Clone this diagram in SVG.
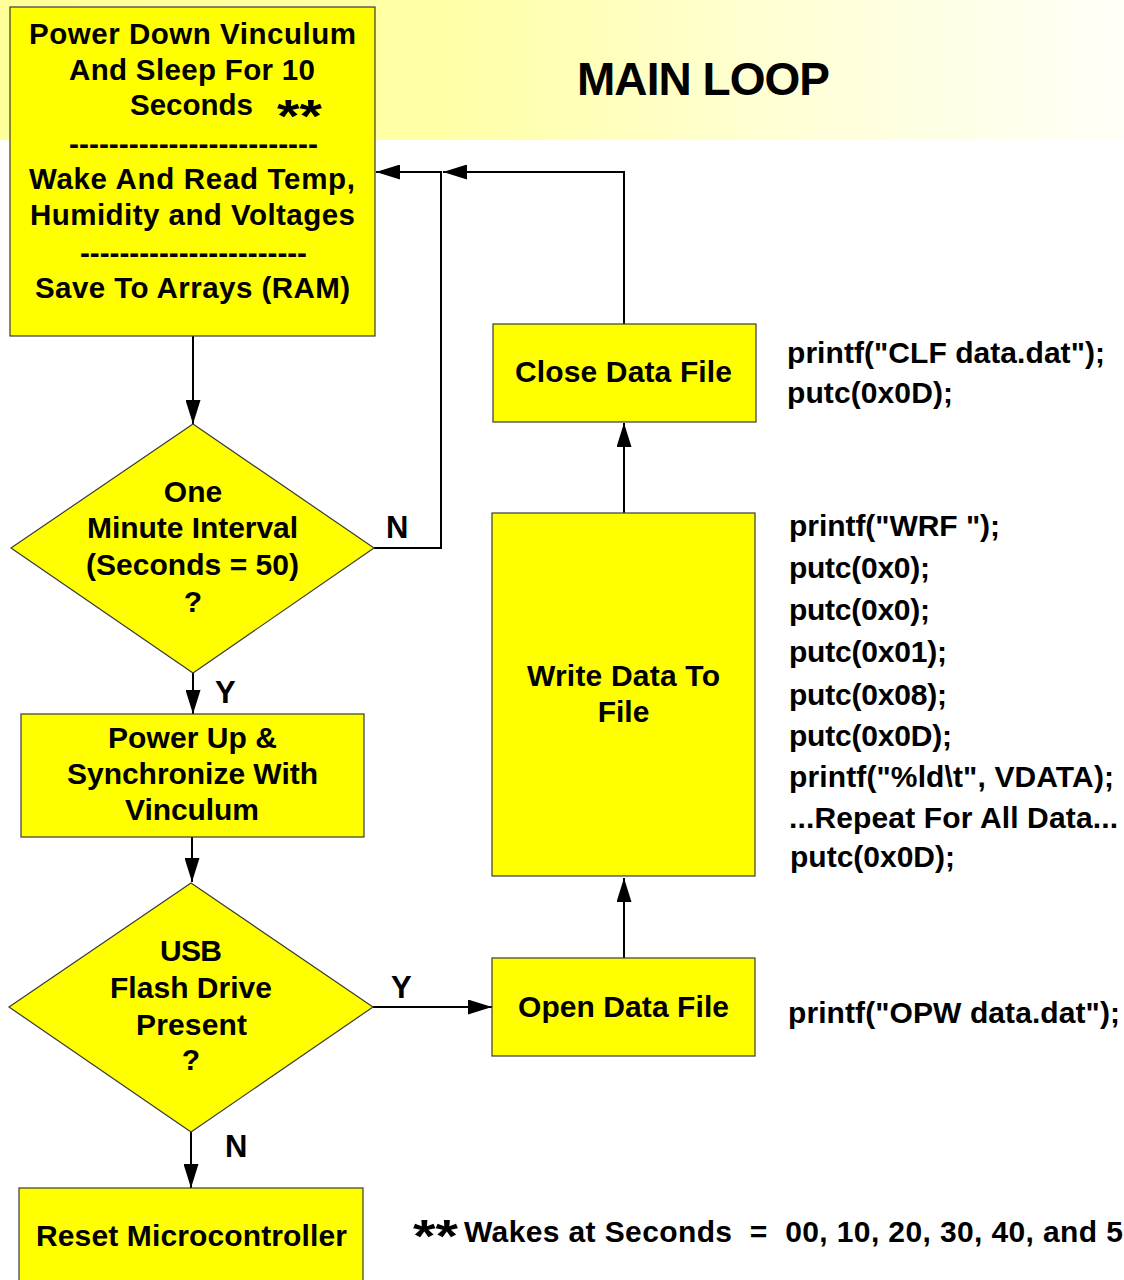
<svg xmlns="http://www.w3.org/2000/svg" width="1124" height="1280" viewBox="0 0 1124 1280">
  <defs>
    <linearGradient id="band" x1="0" y1="0" x2="1" y2="0">
      <stop offset="0" stop-color="#ffff99"/>
      <stop offset="0.38" stop-color="#ffffa4"/>
      <stop offset="0.7" stop-color="#ffffd6"/>
      <stop offset="1" stop-color="#fffff8"/>
    </linearGradient>
    <marker id="arrow" markerUnits="userSpaceOnUse" markerWidth="24" markerHeight="15" refX="24" refY="7.5" orient="auto">
      <path d="M0,0 L24,7.5 L0,15 Z" fill="#000"/>
    </marker>
    <style>
      text { font-family: "Liberation Sans", Arial, sans-serif; font-weight: bold; fill: #000; }
      .node { font-size: 30px; }
      .big { font-size: 29.5px; }
      .code { font-size: 30px; }
      .lbl { font-size: 31px; }
      .star { font-size: 46px; }
      .title { font-size: 46px; }
      .pre { white-space: pre; }
      .box { fill: #ffff00; stroke: #3a3a3a; stroke-width: 1.2; }
      .wire { fill: none; stroke: #000; stroke-width: 2; }
    </style>
  </defs>

  <!-- header band -->
  <rect x="0" y="0" width="1124" height="140" fill="url(#band)"/>
  <text class="title" x="577" y="95" textLength="253">MAIN LOOP</text>

  <!-- connectors -->
  <g id="connectors">
    <path class="wire" d="M193,336 L193,424" marker-end="url(#arrow)"/>
    <path class="wire" d="M374,548 L441,548 L441,172 L376,172" marker-end="url(#arrow)"/>
    <path class="wire" d="M624,324 L624,172 L443,172" marker-end="url(#arrow)"/>
    <path class="wire" d="M193,673 L193,714" marker-end="url(#arrow)"/>
    <path class="wire" d="M192,837 L192,882" marker-end="url(#arrow)"/>
    <path class="wire" d="M373,1007 L492,1007" marker-end="url(#arrow)"/>
    <path class="wire" d="M191,1132 L191,1188" marker-end="url(#arrow)"/>
    <path class="wire" d="M624,958 L624,878" marker-end="url(#arrow)"/>
    <path class="wire" d="M624,513 L624,423" marker-end="url(#arrow)"/>
    <text class="lbl" x="386" y="538">N</text>
    <text class="lbl" x="215" y="703">Y</text>
    <text class="lbl" x="391" y="998">Y</text>
    <text class="lbl" x="225" y="1157">N</text>
  </g>

  <!-- sleep / wake / store -->
  <g id="sleep-wake">
    <rect class="box" x="10" y="7" width="365" height="329"/>
    <text class="big" x="29" y="44" textLength="327">Power Down Vinculum</text>
    <text class="big" x="69" y="80" textLength="246">And Sleep For 10</text>
    <text class="big" x="130" y="115" textLength="123">Seconds</text>
    <text class="star" x="277" y="132" textLength="45" lengthAdjust="spacingAndGlyphs">**</text>
    <text class="big" x="69" y="154" textLength="249" lengthAdjust="spacingAndGlyphs">-------------------------</text>
    <text class="big" x="29" y="189" textLength="326">Wake And Read Temp,</text>
    <text class="big" x="30" y="225" textLength="325">Humidity and Voltages</text>
    <text class="big" x="80" y="263" textLength="227" lengthAdjust="spacingAndGlyphs">-----------------------</text>
    <text class="big" x="35" y="298" textLength="315">Save To Arrays (RAM)</text>
  </g>

  <!-- one minute check -->
  <g id="minute-check">
    <polygon class="box" points="193,424 374,548 193,673 11,548"/>
    <text class="node" x="193" y="502" text-anchor="middle">One</text>
    <text class="node" x="87" y="538" textLength="211">Minute Interval</text>
    <text class="node" x="86" y="575" textLength="213">(Seconds = 50)</text>
    <text class="node" x="193" y="612" text-anchor="middle">?</text>
  </g>

  <!-- power up -->
  <g id="power-up">
    <rect class="box" x="21" y="714" width="343" height="123"/>
    <text class="node" x="108" y="748" textLength="169">Power Up &amp;</text>
    <text class="node" x="67" y="784" textLength="251">Synchronize With</text>
    <text class="node" x="125" y="820" textLength="134">Vinculum</text>
  </g>

  <!-- usb drive check -->
  <g id="usb-check">
    <polygon class="box" points="191,883 373,1007 191,1132 9,1007"/>
    <text class="node" x="160" y="961" textLength="62">USB</text>
    <text class="node" x="110" y="998" textLength="162">Flash Drive</text>
    <text class="node" x="136" y="1035" textLength="111">Present</text>
    <text class="node" x="191" y="1070" text-anchor="middle">?</text>
  </g>

  <!-- reset -->
  <g id="reset">
    <rect class="box" x="19" y="1188" width="344" height="100"/>
    <text class="node" x="36" y="1246" textLength="311">Reset Microcontroller</text>
  </g>

  <!-- open file -->
  <g id="open-file">
    <rect class="box" x="492" y="958" width="263" height="98"/>
    <text class="node" x="518" y="1017" textLength="211">Open Data File</text>
    <text class="code" x="788" y="1023" textLength="332">printf("OPW data.dat");</text>
  </g>

  <!-- write data -->
  <g id="write-data">
    <rect class="box" x="492" y="513" width="263" height="363"/>
    <text class="node" x="527" y="686" textLength="193">Write Data To</text>
    <text class="node" x="623.5" y="722" text-anchor="middle">File</text>
    <text class="code" x="789" y="536" textLength="211">printf("WRF ");</text>
    <text class="code" x="789" y="578" textLength="141">putc(0x0);</text>
    <text class="code" x="789" y="620" textLength="141">putc(0x0);</text>
    <text class="code" x="789" y="662" textLength="158">putc(0x01);</text>
    <text class="code" x="789" y="705" textLength="158">putc(0x08);</text>
    <text class="code" x="789" y="746" textLength="163">putc(0x0D);</text>
    <text class="code" x="789" y="787" textLength="325">printf("%ld\t", VDATA);</text>
    <text class="code" x="789" y="828" textLength="329">...Repeat For All Data...</text>
    <text class="code" x="790" y="867" textLength="165">putc(0x0D);</text>
  </g>

  <!-- close file -->
  <g id="close-file">
    <rect class="box" x="493" y="324" width="263" height="98"/>
    <text class="node" x="515" y="382" textLength="217">Close Data File</text>
    <text class="code" x="787" y="363" textLength="318">printf("CLF data.dat");</text>
    <text class="code" x="787" y="403" textLength="166">putc(0x0D);</text>
  </g>

  <!-- footnote -->
  <text class="star" x="413" y="1252" textLength="45" lengthAdjust="spacingAndGlyphs">**</text>
  <text class="code pre" x="464" y="1242" textLength="676" xml:space="preserve">Wakes at Seconds  =  00, 10, 20, 30, 40, and 50</text>
</svg>
